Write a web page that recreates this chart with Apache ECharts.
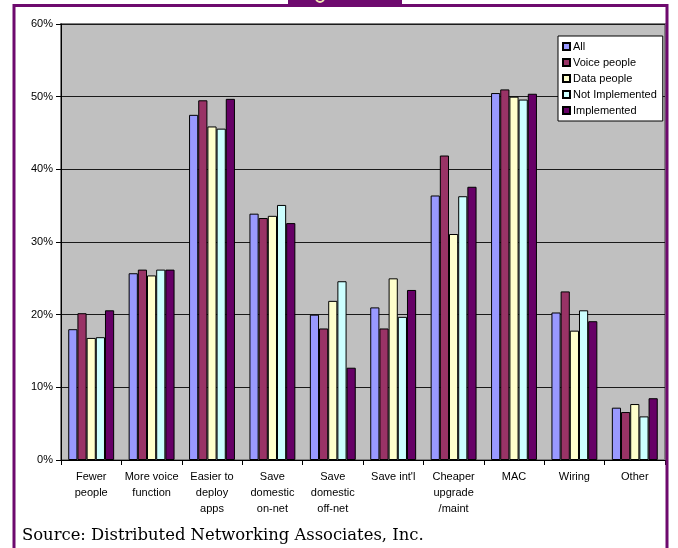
<!DOCTYPE html>
<html>
<head>
<meta charset="utf-8">
<style>
  html, body { margin: 0; padding: 0; background: #ffffff; }
  #chart { width: 678px; height: 548px; }
</style>
<script src="https://cdn.jsdelivr.net/npm/echarts@6/dist/echarts.min.js"></script>
</head>
<body>
<div id="chart"></div>
<script>
// Reasons cited, share of respondents (%)
const categories = [
  'Fewer\npeople', 'More voice\nfunction', 'Easier to\ndeploy\napps', 'Save\ndomestic\non-net',
  'Save\ndomestic\noff-net', "Save int'l", 'Cheaper\nupgrade\n/maint', 'MAC', 'Wiring', 'Other'
];
const seriesNames = ['All', 'Voice people', 'Data people', 'Not Implemented', 'Implemented'];
const allValues      = [18.0, 25.7, 47.5, 33.9, 20.0, 21.0, 36.4, 50.5, 20.3, 7.2];
const voiceValues    = [20.2, 26.2, 49.5, 33.3, 18.1, 18.1, 41.9, 51.0, 23.2, 6.6];
const dataValues     = [16.8, 25.4, 45.9, 33.6, 21.9, 25.0, 31.1, 50.0, 17.8, 7.7];
const notImplValues  = [16.9, 26.2, 45.6, 35.1, 24.6, 19.7, 36.3, 49.6, 20.6, 6.0];
const implValues     = [20.6, 26.2, 49.7, 32.6, 12.7, 23.4, 37.6, 50.4, 19.1, 8.5];
const yTicks = [0, 10, 20, 30, 40, 50, 60];

const seriesValues = [allValues, voiceValues, dataValues, notImplValues, implValues];
const colors = ['#9999FF', '#993366', '#FFFFCC', '#CCFFFF', '#660066'];

const chart = echarts.init(document.getElementById('chart'), null, { renderer: 'canvas' });

const purple = '#6E0A6E';

chart.setOption({
  animation: false,
  backgroundColor: '#ffffff',
  textStyle: { fontFamily: 'Liberation Sans, Arial, sans-serif' },
  grid: {
    left: 61, right: 13, top: 24, bottom: 88,
    show: true,
    backgroundColor: '#C0C0C0',
    borderColor: '#808080',
    borderWidth: 2
  },
  legend: {
    orient: 'vertical',
    left: 558, top: 36,
    data: seriesNames,
    icon: 'rect',
    itemWidth: 7, itemHeight: 7, itemGap: 5,
    padding: [5, 6, 5, 4],
    backgroundColor: '#ffffff',
    borderColor: '#000000',
    borderWidth: 1,
    textStyle: { fontSize: 11, color: '#000', padding: [0, 0, 0, -2] }
  },
  xAxis: {
    type: 'category',
    data: categories,
    axisLine: { lineStyle: { color: '#000', width: 1 } },
    axisTick: { show: true, alignWithLabel: false, length: 5, lineStyle: { color: '#000' } },
    axisLabel: { interval: 0, fontSize: 11, color: '#000', lineHeight: 16, margin: 9 }
  },
  yAxis: {
    type: 'value',
    min: yTicks[0], max: yTicks[yTicks.length - 1], interval: 10,
    axisLine: { show: true, lineStyle: { color: '#000', width: 1 } },
    axisTick: { show: true, length: 5, lineStyle: { color: '#000' } },
    axisLabel: { fontSize: 11, color: '#000', margin: 8, formatter: v => v + '%' },
    splitLine: { show: true, lineStyle: { color: '#1a1a1a', width: 1 } }
  },
  series: seriesNames.map((name, i) => ({
    name,
    type: 'bar',
    data: seriesValues[i],
    barGap: '0%',
    barCategoryGap: '24%',
    itemStyle: { color: colors[i], borderColor: '#000', borderWidth: 1 }
  })),
  graphic: [
    // outer frame
    {
      type: 'rect',
      shape: { x: 14, y: 5.5, width: 653, height: 560 },
      style: { fill: 'none', stroke: purple, lineWidth: 3 },
      z: 10
    },
    // title tab
    {
      type: 'rect',
      shape: { x: 288, y: 0, width: 114, height: 6 },
      style: { fill: purple },
      z: 11
    },
    {
      type: 'circle',
      shape: { cx: 320, cy: -2, r: 4 },
      style: { fill: 'none', stroke: '#F0E6B4', lineWidth: 2 },
      z: 12
    },
    {
      type: 'text',
      left: 22, top: 528,
      style: {
        text: 'Source: Distributed Networking Associates, Inc.',
        font: '16.4px "DejaVu Serif", "Liberation Serif", serif',
        fill: '#000'
      },
      z: 12
    }
  ]
});
</script>
</body>
</html>
